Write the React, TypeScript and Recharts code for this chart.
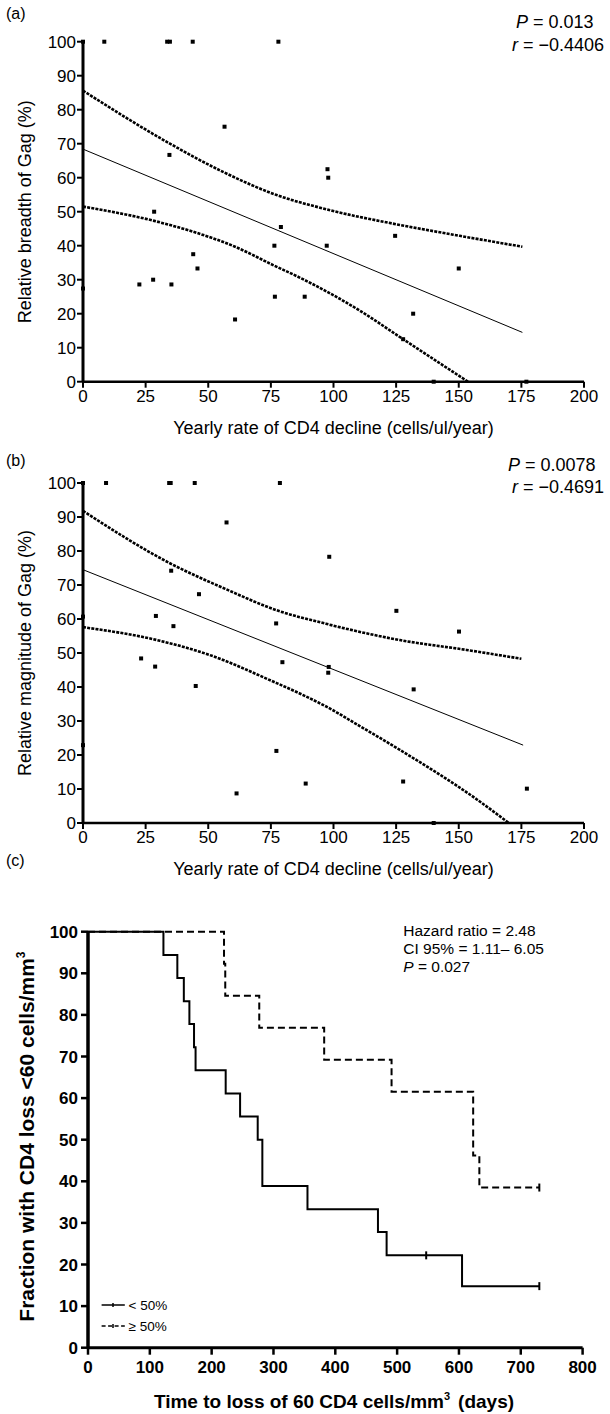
import React from 'react';
import { ComposedChart, Line, Scatter, XAxis, YAxis } from 'recharts';

const FONT = '"Liberation Sans", Arial, Helvetica, sans-serif';

// ---------- Panel (a): relative breadth of Gag ----------
const breadthRate = [0, 8.5, 33.6, 34.7, 43.8, 78, 56.5, 34.5, 97.6, 97.9, 28.4, 79, 76.4, 97.3, 124.6, 44, 45.7, 150, 22.5, 28, 35.3, 0, 76.6, 88.5, 60.7, 131.8, 127.8, 140, 177];
const breadthValue = [100, 100, 100, 100, 100, 100, 75, 66.7, 62.5, 60, 50, 45.5, 40, 40, 42.9, 37.5, 33.3, 33.3, 28.6, 30, 28.6, 27.4, 25, 25, 18.3, 20, 12.5, 0, 0];
const breadthFitX = [0, 175.4];
const breadthFitY = [68.4, 14.5];
const breadthUpperX = [0, 34.5, 56.5, 77.3, 97.2, 126.5, 150.4, 175.4];
const breadthUpperY = [85.6, 70.1, 61.5, 54.9, 50.7, 46.1, 42.9, 39.7];
const breadthLowerX = [0, 28.4, 44, 60.7, 75.9, 88.5, 110.5, 127.8, 153.7];
const breadthLowerY = [51.5, 47.3, 44.1, 39.7, 34.3, 29.9, 20.9, 12.5, 0];

// ---------- Panel (b): relative magnitude of Gag ----------
const magnitudeRate = [0, 9.2, 34.4, 35, 44.6, 78.6, 57.3, 98.3, 35.2, 46.3, 29.1, 0, 36.1, 77.1, 125.1, 150.1, 23.2, 28.8, 79.6, 98.1, 97.9, 45, 132, 0, 77.2, 88.9, 61.3, 127.8, 177.2, 140];
const magnitudeValue = [100, 100, 100, 100, 100, 100, 88.4, 78.3, 74.2, 67.3, 60.9, 60.7, 57.9, 58.7, 62.4, 56.3, 48.4, 46, 47.3, 45.9, 44.2, 40.3, 39.3, 22.9, 21.2, 11.6, 8.7, 12.2, 10.1, 0];
const magnitudeFitX = [0, 175.7];
const magnitudeFitY = [74.5, 22.9];
const magnitudeUpperX = [0, 34.7, 57.3, 77.2, 97, 126.5, 153.1, 175];
const magnitudeUpperY = [91.8, 76.4, 68.7, 62.6, 58.6, 53.8, 50.9, 48.3];
const magnitudeLowerX = [0, 30.7, 50.6, 75.9, 86.5, 97.2, 110.5, 126.5, 157.1, 170];
const magnitudeLowerY = [57.6, 53.6, 49.4, 41.6, 38.1, 34.2, 28.5, 21.5, 7, 0];

const rateTicks = [0, 25, 50, 75, 100, 125, 150, 175, 200];
const percentTicks = [0, 10, 20, 30, 40, 50, 60, 70, 80, 90, 100];

// ---------- Panel (c): Kaplan-Meier ----------
const belowDays = [0, 122, 144.5, 155, 164, 171.5, 174, 222.7, 246, 274.5, 282, 355, 469, 483, 605, 730];
const belowFraction = [100, 94.4, 88.9, 83.3, 77.8, 72.2, 66.7, 61.1, 55.6, 50, 38.9, 33.3, 27.8, 22.2, 14.8, 14.8];
const aboveDays = [0, 220, 222, 277, 382, 491, 623, 633, 730];
const aboveFraction = [100, 92.3, 84.6, 76.9, 69.2, 61.5, 46.2, 38.5, 38.5];
const belowCensorDays = [547, 730];
const belowCensorFraction = [22.2, 14.8];
const aboveCensorDays = [730];
const aboveCensorFraction = [38.5];
const dayTicks = [0, 100, 200, 300, 400, 500, 600, 700, 800];

const zip = (xs: number[], ys: number[]) => xs.map((x, i) => ({ x, y: ys[i] }));

const SquareDot = (props: any) => {
  const { cx, cy } = props;
  if (cx == null || cy == null) return null;
  return <rect x={cx - 2} y={cy - 2} width={4} height={4} fill="#000" />;
};

const CensorTick = (props: any) => {
  const { cx, cy } = props;
  if (cx == null || cy == null) return null;
  return <line x1={cx} y1={cy - 4} x2={cx} y2={cy + 4} stroke="#000" strokeWidth={2} />;
};

type ScatterPanelProps = {
  pts: { x: number; y: number }[];
  fit: { x: number; y: number }[];
  upper: { x: number; y: number }[];
  lower: { x: number; y: number }[];
  height: number;
  marginTop: number;
  marginBottom: number;
  xAxisHeight: number;
};

const ScatterPanel = ({ pts, fit, upper, lower, height, marginTop, marginBottom, xAxisHeight }: ScatterPanelProps) => {
  const tick = { fill: '#000', fontSize: 17, fontFamily: FONT };
  const ci = { stroke: '#000', strokeWidth: 2.6, strokeDasharray: '3 1.2' };
  return (
    <ComposedChart width={610} height={height} margin={{ top: marginTop, right: 26, bottom: marginBottom, left: 0 }}>
      <XAxis
        type="number"
        dataKey="x"
        domain={[0, 200]}
        ticks={rateTicks}
        interval={0}
        axisLine={{ stroke: '#000', strokeWidth: 2.5 }}
        tickLine={{ stroke: '#000', strokeWidth: 2 }}
        tickSize={6}
        tickMargin={2}
        tick={tick}
        height={xAxisHeight}
      />
      <YAxis
        type="number"
        dataKey="y"
        domain={[0, 100]}
        ticks={percentTicks}
        interval={0}
        axisLine={{ stroke: '#000', strokeWidth: 3 }}
        tickLine={{ stroke: '#000', strokeWidth: 2 }}
        tickSize={6}
        tickMargin={1}
        tick={tick}
        width={83}
      />
      <Line data={upper} dataKey="y" type="monotone" dot={false} {...ci} isAnimationActive={false} />
      <Line data={lower} dataKey="y" type="monotone" dot={false} {...ci} isAnimationActive={false} />
      <Line data={fit} dataKey="y" type="linear" dot={false} stroke="#000" strokeWidth={1} isAnimationActive={false} />
      <Scatter data={pts} shape={<SquareDot />} isAnimationActive={false} />
    </ComposedChart>
  );
};

const KMPanel = () => {
  const tick = { fill: '#000', fontSize: 17, fontFamily: FONT, fontWeight: 'bold' as const };
  return (
    <ComposedChart width={610} height={554} margin={{ top: 71.7, right: 27.4, bottom: 26.3, left: 0 }}>
      <XAxis
        type="number"
        dataKey="x"
        domain={[0, 800]}
        ticks={dayTicks}
        interval={0}
        axisLine={{ stroke: '#000', strokeWidth: 3 }}
        tickLine={{ stroke: '#000', strokeWidth: 2.5 }}
        tickSize={7}
        tickMargin={6}
        tick={tick}
        height={40}
      />
      <YAxis
        type="number"
        dataKey="y"
        domain={[0, 100]}
        ticks={percentTicks}
        interval={0}
        axisLine={{ stroke: '#000', strokeWidth: 3.5 }}
        tickLine={{ stroke: '#000', strokeWidth: 2.5 }}
        tickSize={7}
        tickMargin={3}
        tick={tick}
        width={88}
      />
      <Line data={zip(aboveDays, aboveFraction)} dataKey="y" type="stepAfter" dot={false} stroke="#000" strokeWidth={2} strokeDasharray="7 4" isAnimationActive={false} />
      <Line data={zip(belowDays, belowFraction)} dataKey="y" type="stepAfter" dot={false} stroke="#000" strokeWidth={2} isAnimationActive={false} />
      <Scatter data={zip(belowCensorDays, belowCensorFraction)} shape={<CensorTick />} isAnimationActive={false} />
      <Scatter data={zip(aboveCensorDays, aboveCensorFraction)} shape={<CensorTick />} isAnimationActive={false} />
    </ComposedChart>
  );
};

const Annotations = () => (
  <svg width={610} height={1414} style={{ position: 'absolute', left: 0, top: 0, pointerEvents: 'none' }} fontFamily={FONT}>
    {/* panel (a) */}
    <text x={6} y={19} fontSize={16}>(a)</text>
    <text x={516} y={28.3} fontSize={18}><tspan fontStyle="italic">P</tspan> = 0.013</text>
    <text x={512} y={50.7} fontSize={18}><tspan fontStyle="italic">r</tspan> = −0.4406</text>
    <text x={333.5} y={434} fontSize={18} textAnchor="middle">Yearly rate of CD4 decline (cells/ul/year)</text>
    <text transform="translate(31,211.7) rotate(-90)" fontSize={18} textAnchor="middle">Relative breadth of Gag (%)</text>

    {/* panel (b) */}
    <text x={6} y={466} fontSize={16}>(b)</text>
    <text x={508} y={470.5} fontSize={18}><tspan fontStyle="italic">P</tspan> = 0.0078</text>
    <text x={512} y={493} fontSize={18}><tspan fontStyle="italic">r</tspan> = −0.4691</text>
    <text x={333.5} y={875} fontSize={18} textAnchor="middle">Yearly rate of CD4 decline (cells/ul/year)</text>
    <text transform="translate(31,653) rotate(-90)" fontSize={18} textAnchor="middle">Relative magnitude of Gag (%)</text>

    {/* panel (c) */}
    <text x={6} y={866} fontSize={16}>(c)</text>
    <text x={403.3} y={936} fontSize={15.5}>Hazard ratio = 2.48</text>
    <text x={403.3} y={954.3} fontSize={15.5}>CI 95% = 1.11– 6.05</text>
    <text x={403.3} y={972} fontSize={15.5}><tspan fontStyle="italic">P</tspan> = 0.027</text>
    <text x={334} y={1408} fontSize={19} fontWeight="bold" textAnchor="middle">
      Time to loss of 60 CD4 cells/mm<tspan fontSize={11} dy={-8}>3</tspan><tspan dy={8} dx={8}>(days)</tspan>
    </text>
    <text transform="translate(34,1321.7) rotate(-90)" fontSize={21} fontWeight="bold" textAnchor="start">
      Fraction with CD4 loss &lt;60 cells/mm<tspan fontSize={12} dy={-9}>3</tspan>
    </text>

    {/* legend */}
    <line x1={101.6} y1={1305} x2={124.8} y2={1305} stroke="#000" strokeWidth={1.5} />
    <line x1={113} y1={1303} x2={113} y2={1307} stroke="#000" strokeWidth={1.5} />
    <text x={128.6} y={1310} fontSize={13.5}>&lt; 50%</text>
    <line x1={101.6} y1={1326} x2={124.8} y2={1326} stroke="#000" strokeWidth={1.5} strokeDasharray="4 2.5" />
    <line x1={113} y1={1324} x2={113} y2={1328} stroke="#000" strokeWidth={1.5} />
    <text x={128.6} y={1331} fontSize={13.5}>≥ 50%</text>
  </svg>
);

export default function App() {
  return (
    <div style={{ position: 'absolute', left: 0, top: 0, width: 610, height: 1414, background: '#fff', fontFamily: FONT }}>
      <div style={{ position: 'absolute', left: 0, top: 0 }}>
        <ScatterPanel
          pts={zip(breadthRate, breadthValue)}
          fit={zip(breadthFitX, breadthFitY)}
          upper={zip(breadthUpperX, breadthUpperY)}
          lower={zip(breadthLowerX, breadthLowerY)}
          height={440}
          marginTop={41.7}
          marginBottom={18.3}
          xAxisHeight={40}
        />
      </div>
      <div style={{ position: 'absolute', left: 0, top: 440 }}>
        <ScatterPanel
          pts={zip(magnitudeRate, magnitudeValue)}
          fit={zip(magnitudeFitX, magnitudeFitY)}
          upper={zip(magnitudeUpperX, magnitudeUpperY)}
          lower={zip(magnitudeLowerX, magnitudeLowerY)}
          height={420}
          marginTop={43}
          marginBottom={7}
          xAxisHeight={30}
        />
      </div>
      <div style={{ position: 'absolute', left: 0, top: 860 }}>
        <KMPanel />
      </div>
      <Annotations />
    </div>
  );
}
